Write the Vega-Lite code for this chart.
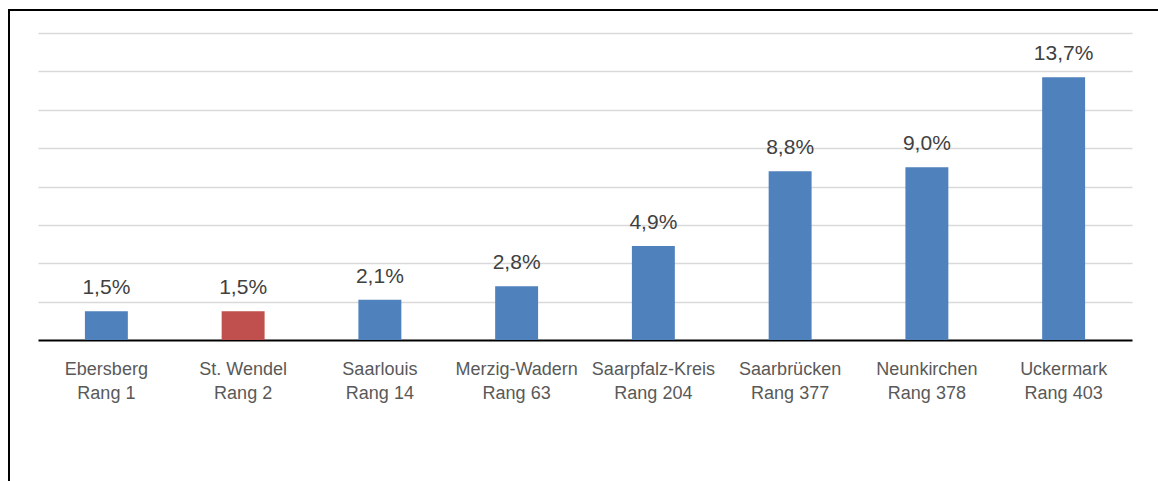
{
  "$schema": "https://vega.github.io/schema/vega-lite/v6.json",
  "width": 1152,
  "height": 474,
  "autosize": "none",
  "padding": {"left": 9, "top": 10, "right": -3, "bottom": -3},
  "background": "white",
  "config": {
    "view": {"stroke": "black", "strokeWidth": 2},
    "locale": {"number": {"decimal": ",", "thousands": ".", "grouping": [3], "currency": ["", " €"]}}
  },
  "data": {
    "values": [
      {"kreis": "Ebersberg\nRang 1", "anteil": 0.015, "gruppe": "andere"},
      {"kreis": "St. Wendel\nRang 2", "anteil": 0.015, "gruppe": "St. Wendel"},
      {"kreis": "Saarlouis\nRang 14", "anteil": 0.021, "gruppe": "andere"},
      {"kreis": "Merzig-Wadern\nRang 63", "anteil": 0.028, "gruppe": "andere"},
      {"kreis": "Saarpfalz-Kreis\nRang 204", "anteil": 0.049, "gruppe": "andere"},
      {"kreis": "Saarbrücken\nRang 377", "anteil": 0.088, "gruppe": "andere"},
      {"kreis": "Neunkirchen\nRang 378", "anteil": 0.090, "gruppe": "andere"},
      {"kreis": "Uckermark\nRang 403", "anteil": 0.137, "gruppe": "andere"}
    ]
  },
  "encoding": {
    "x": {
      "field": "kreis",
      "type": "nominal",
      "sort": null,
      "scale": {"range": [29, 1123], "paddingInner": 0.686, "paddingOuter": 0.343},
      "axis": {
        "orient": "bottom",
        "offset": -144,
        "title": null,
        "ticks": false,
        "domainColor": "black",
        "domainWidth": 2,
        "labelAngle": 0,
        "labelPadding": 20,
        "labelBaseline": "top",
        "labelFont": "Liberation Sans",
        "labelFontSize": 18,
        "labelColor": "#595959",
        "labelLineHeight": 24,
        "labelExpr": "split(datum.label, '\\n')"
      }
    },
    "y": {
      "field": "anteil",
      "type": "quantitative",
      "scale": {"domain": [0, 0.16], "range": [330, 23], "nice": false},
      "axis": {
        "values": [0.02, 0.04, 0.06, 0.08, 0.1, 0.12, 0.14, 0.16],
        "grid": true,
        "gridColor": "#d9d9d9",
        "gridWidth": 1.5,
        "labels": false,
        "ticks": false,
        "domain": false,
        "title": null
      }
    }
  },
  "layer": [
    {
      "mark": {"type": "bar"},
      "encoding": {
        "color": {
          "field": "gruppe",
          "type": "nominal",
          "scale": {"domain": ["andere", "St. Wendel"], "range": ["#4F81BD", "#C0504D"]},
          "legend": null
        }
      }
    },
    {
      "mark": {"type": "text", "dy": -17, "baseline": "alphabetic", "font": "Liberation Sans", "fontSize": 21, "color": "#404040"},
      "encoding": {
        "text": {"field": "anteil", "type": "quantitative", "format": ".1%"}
      }
    }
  ]
}
